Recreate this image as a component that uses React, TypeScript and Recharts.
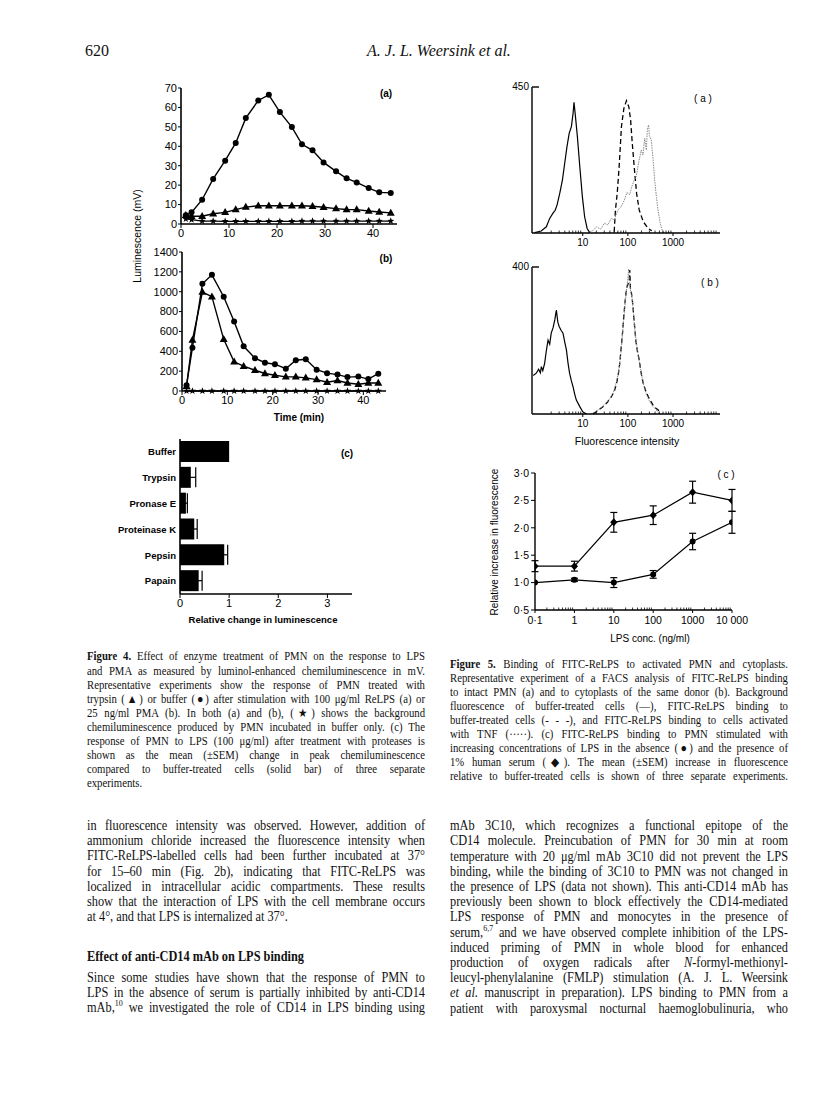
import React from "react";
import { Bar, BarChart, ErrorBar, Line, LineChart, XAxis, YAxis } from "recharts";

const sans = "'Liberation Sans', Arial, Helvetica, sans-serif";
const serif = "'Liberation Serif', 'Times New Roman', Times, serif";

// Figure 4 (a): 100 ug/ml ReLPS, luminescence (mV)
const timeA = [1, 2.2, 4.4, 6.7, 9.2, 11.4, 13.5, 16.1, 18.3, 20.6, 23.1, 25.2, 27.4, 29.7, 32.3, 34.5, 36.6, 39.1, 41.3, 43.7];
const bufferA = [4.5, 6, 12.5, 23.2, 32.6, 41.7, 54.5, 63.6, 66.5, 57.6, 49.9, 41, 37.9, 31.7, 27.1, 23.5, 21.4, 18.5, 16.3, 16];
const trypsinA = [4.5, 4, 4, 5.3, 6, 7.4, 8.7, 9.4, 9.4, 9.4, 9.4, 9.4, 9.1, 8.6, 7.9, 7.5, 7.4, 6.7, 6.2, 5.7];
const blankA = [2.6, 2.2, 1.5, 1.5, 1.4, 1.4, 1.4, 1.4, 1.4, 1.4, 1.4, 1.5, 1.5, 1.5, 1.5, 1.5, 1.5, 1.5, 1.5, 1.5];

// Figure 4 (b): 25 ng/ml PMA
const timeB = [1, 2.3, 4.5, 6.6, 9.2, 11.5, 13.6, 16.1, 18.3, 20.5, 22.9, 25.1, 27.3, 29.7, 32, 34.3, 36.5, 38.9, 41.1, 43.3];
const bufferB = [58, 436, 1080, 1170, 950, 700, 450, 330, 285, 270, 225, 310, 320, 215, 180, 165, 140, 145, 120, 175];
const trypsinB = [47, 513, 997, 950, 520, 294, 250, 209, 176, 159, 142, 142, 132, 115, 88, 105, 81, 68, 81, 81];
const blankB = [0, 0, 0, 0, 0, 0, 0, 0, 0, 0, 0, 0, 0, 0, 0, 0, 0, 0, 0, 0];

// Figure 4 (c): relative change in luminescence
const enzymes = ["Buffer", "Trypsin", "Pronase E", "Proteinase K", "Pepsin", "Papain"];
const relChange = [1.0, 0.22, 0.12, 0.29, 0.9, 0.38];
const relChangeSem = [0, 0.1, 0.03, 0.06, 0.07, 0.07];

// Figure 5 (a), (b): FACS histograms [intensity, counts]
const facsAbackground: [number, number][] = [[0.86, 1], [1.2, 6], [1.56, 19], [1.85, 45], [2.19, 61], [2.45, 70], [2.69, 86], [3.09, 122], [3.54, 163], [3.98, 215], [4.47, 266], [5.0, 307], [5.6, 328], [6.1, 369], [6.4, 403], [6.9, 358], [7.6, 297], [8.6, 204], [9.8, 112], [11, 50], [12.5, 14], [14.3, 1]];
const facsAbuffer: [number, number][] = [[49.7, 4], [53, 71], [58, 122], [64, 204], [72, 328], [81.5, 384], [93, 408], [105, 389], [115, 348], [125, 277], [138, 204], [156, 122], [178, 71], [219, 35], [283, 14], [337, 7]];
const facsAtnf: [number, number][] = [[13, 0], [17, 8], [20, 19], [25, 12], [30, 30], [36, 25], [43, 45], [50, 40], [60, 71], [70, 80], [84, 102], [95, 125], [110, 118], [119, 138], [135, 160], [153, 174], [175, 220], [198, 256], [215, 240], [236, 292], [256, 256], [270, 320], [288, 333], [300, 300], [330, 287], [360, 230], [392, 163], [430, 110], [465, 71], [520, 30], [577, 9], [620, 0]];
const facsBbackground: [number, number][] = [[0.8, 105], [0.93, 111], [1.05, 122], [1.15, 112], [1.21, 129], [1.3, 118], [1.43, 138], [1.55, 170], [1.7, 201], [1.85, 190], [2.0, 220], [2.2, 235], [2.4, 256], [2.6, 283], [2.8, 250], [3.0, 238], [3.3, 228], [3.65, 220], [4.0, 195], [4.35, 174], [4.7, 140], [5.1, 111], [5.6, 90], [6.1, 74], [6.6, 55], [7.2, 38], [8.6, 20], [10, 6], [12, 0]];
const facsBbuffer: [number, number][] = [[17, 0], [22, 10], [28, 20], [35, 32], [43, 47], [50, 62], [56, 83], [61, 105], [66, 138], [71, 180], [76, 220], [81, 265], [86, 301], [91, 330], [96, 347], [102, 355], [107, 360], [110, 392], [114, 340], [120, 329], [128, 300], [136, 260], [143, 230], [150, 200], [163, 170], [178, 147], [198, 110], [219, 83], [250, 62], [283, 47], [320, 35], [362, 24], [410, 16], [470, 11], [520, 0]];
const facsBtnf: [number, number][] = [[15, 0], [20, 8], [26, 18], [33, 30], [40, 42], [48, 60], [55, 85], [62, 115], [68, 150], [74, 200], [80, 250], [86, 295], [93, 335], [100, 370], [104, 395], [108, 365], [115, 335], [124, 315], [132, 280], [140, 240], [150, 205], [165, 170], [180, 140], [200, 108], [225, 78], [260, 52], [300, 35], [350, 22], [420, 12], [500, 0]];
const facsTickLabels: Record<number, string> = { 10: "10", 100: "100", 1000: "1000" };

// Figure 5 (c): LPS concentration (ng/ml) vs relative increase in fluorescence
const lpsConc = [0.1, 1, 10, 100, 1000, 10000];
const noSerum = [1.0, 1.05, 1.0, 1.15, 1.75, 2.1];
const noSerumSem = [0, 0.03, 0.09, 0.07, 0.15, 0.2];
const withSerum = [1.3, 1.3, 2.1, 2.23, 2.65, 2.5];
const withSerumSem = [0.1, 0.09, 0.18, 0.17, 0.2, 0.2];
const lpsTickLabels: Record<number, string> = { 0.1: "0·1", 1: "1", 10: "10", 100: "100", 1000: "1000", 10000: "10 000" };

const minorTicks = (decades: number[]) => decades.flatMap((d) => [2, 3, 4, 5, 6, 7, 8, 9].map((m) => m * d));
const pairs = (arr: [number, number][]) => arr.map(([x, y]) => ({ x, y }));

const axisStroke = { stroke: "#000", strokeWidth: 1.6 };
const tickText = { fontSize: 11, fill: "#000", fontFamily: sans };

const circleDot = (r: number) => (p: any) => (
  <circle key={`c${p.index}`} cx={p.cx} cy={p.cy} r={r} fill="#000" stroke="none" />
);
const triangleDot = (p: any) => (
  <path key={`t${p.index}`} d={`M${p.cx},${p.cy - 4.3}L${p.cx + 4},${p.cy + 2.7}L${p.cx - 4},${p.cy + 2.7}Z`} fill="#000" stroke="none" />
);
const diamondDot = (p: any) => (
  <path key={`d${p.index}`} d={`M${p.cx},${p.cy - 4}L${p.cx + 3.6},${p.cy}L${p.cx},${p.cy + 4}L${p.cx - 3.6},${p.cy}Z`} fill="#000" stroke="none" />
);
const starDot = (p: any) => {
  let d = "";
  for (let i = 0; i < 10; i++) {
    const a = -Math.PI / 2 + (i * Math.PI) / 5;
    const rad = i % 2 === 0 ? 3.8 : 1.5;
    d += (i === 0 ? "M" : "L") + (p.cx + rad * Math.cos(a)).toFixed(2) + "," + (p.cy + rad * Math.sin(a)).toFixed(2);
  }
  return <path key={`s${p.index}`} d={d + "Z"} fill="#000" stroke="none" />;
};

function Label({ x, y, children, size = 10.5, bold = false, rotate = false, font = sans, style = {} }: any) {
  return (
    <div
      style={{
        position: "absolute",
        left: x,
        top: y,
        transform: `translate(-50%, -50%)${rotate ? " rotate(-90deg)" : ""}`,
        whiteSpace: "nowrap",
        fontFamily: font,
        fontSize: size,
        fontWeight: bold ? 700 : 400,
        lineHeight: 1,
        color: "#000",
        ...style
      }}
    >
      {children}
    </div>
  );
}

function TextLines({ x, y0, pitch, width, size, scale, lines }: any) {
  return (
    <>
      {lines.map((ln: any, i: number) => (
        <div
          key={i}
          style={{
            position: "absolute",
            left: x,
            top: y0 + i * pitch - size * 0.7,
            width: width / scale,
            transform: `scaleX(${scale})`,
            transformOrigin: "0 0",
            fontFamily: serif,
            fontSize: size,
            lineHeight: `${size * 1.2}px`,
            height: size * 1.2,
            textAlign: "justify",
            textAlignLast: ln.last ? "left" : "justify",
            color: "#111"
          }}
        >
          {ln.t}
        </div>
      ))}
    </>
  );
}

function LogTick({ x, y, payload, labels, fontSize, gap }: any) {
  const v = payload.value;
  const label = labels[v];
  return (
    <g>
      {label !== undefined ? (
        <>
          <line x1={x} x2={x} y1={y} y2={y + 3} stroke="#000" strokeWidth={1} />
          <text x={x} y={y + gap} textAnchor="middle" fontSize={fontSize} fontFamily={sans} fill="#000">
            {label}
          </text>
        </>
      ) : (
        <line x1={x} x2={x} y1={y} y2={y - 2.5} stroke="#000" strokeWidth={0.8} />
      )}
    </g>
  );
}

function TopTick({ x, y, payload }: any) {
  return (
    <g>
      <line x1={x} x2={x + 7} y1={y} y2={y} stroke="#000" strokeWidth={1.4} />
      <text x={x - 3} y={y + 3} textAnchor="end" fontSize={10} fontFamily={sans} fill="#000">
        {payload.value}
      </text>
    </g>
  );
}

function Fig4a() {
  const rows = timeA.map((t, i) => ({ t, buffer: bufferA[i], trypsin: trypsinA[i], blank: blankA[i] }));
  return (
    <div style={{ position: "absolute", left: 100, top: 70 }}>
      <LineChart width={320} height={180} data={rows} margin={{ top: 18, right: 23, bottom: 0, left: 0 }}>
        <XAxis type="number" dataKey="t" domain={[0, 45]} ticks={[0, 10, 20, 30, 40]} interval={0} allowDataOverflow height={26} tickSize={4} tickMargin={1} axisLine={axisStroke} tickLine={{ stroke: "#000" }} tick={tickText} />
        <YAxis type="number" domain={[0, 70]} ticks={[0, 10, 20, 30, 40, 50, 60, 70]} interval={0} width={81} tickSize={3} tickMargin={1} axisLine={axisStroke} tickLine={{ stroke: "#000" }} tick={tickText} />
        <Line dataKey="blank" stroke="#000" strokeWidth={1.3} dot={starDot} isAnimationActive={false} />
        <Line dataKey="trypsin" stroke="#000" strokeWidth={1.4} dot={triangleDot} isAnimationActive={false} />
        <Line dataKey="buffer" stroke="#000" strokeWidth={1.4} dot={circleDot(3)} isAnimationActive={false} />
      </LineChart>
    </div>
  );
}

function Fig4b() {
  const rows = timeB.map((t, i) => ({ t, buffer: bufferB[i], trypsin: trypsinB[i], blank: blankB[i] }));
  return (
    <div style={{ position: "absolute", left: 100, top: 235 }}>
      <LineChart width={320} height={182} data={rows} margin={{ top: 17, right: 34, bottom: 0, left: 0 }}>
        <XAxis type="number" dataKey="t" domain={[0, 45]} ticks={[0, 10, 20, 30, 40]} interval={0} allowDataOverflow height={26} tickSize={4} tickMargin={1} axisLine={axisStroke} tickLine={{ stroke: "#000" }} tick={tickText} />
        <YAxis type="number" domain={[0, 1400]} ticks={[0, 200, 400, 600, 800, 1000, 1200, 1400]} interval={0} width={82} tickSize={3} tickMargin={1} axisLine={axisStroke} tickLine={{ stroke: "#000" }} tick={tickText} />
        <Line dataKey="blank" stroke="#000" strokeWidth={1.3} dot={starDot} isAnimationActive={false} />
        <Line dataKey="trypsin" stroke="#000" strokeWidth={1.4} dot={triangleDot} isAnimationActive={false} />
        <Line dataKey="buffer" stroke="#000" strokeWidth={1.4} dot={circleDot(3)} isAnimationActive={false} />
      </LineChart>
    </div>
  );
}

function Fig4c() {
  const rows = enzymes.map((name, i) => ({ name, v: relChange[i], e: relChangeSem[i] }));
  return (
    <div style={{ position: "absolute", left: 60, top: 425 }}>
      <BarChart layout="vertical" width={310} height={209} data={rows} margin={{ top: 14, right: 18, bottom: 0, left: 0 }}>
        <XAxis type="number" domain={[0, 3.5]} ticks={[0, 1, 2, 3]} interval={0} allowDataOverflow height={40} tickSize={4} tickMargin={1} axisLine={axisStroke} tickLine={{ stroke: "#000" }} tick={tickText} />
        <YAxis type="category" dataKey="name" width={120} interval={0} tickLine={false} tickSize={0} tickMargin={4} axisLine={axisStroke} tick={{ fontSize: 9.5, fontWeight: 700, fill: "#000", fontFamily: sans }} />
        <Bar dataKey="v" fill="#000" barSize={21} isAnimationActive={false}>
          <ErrorBar dataKey="e" direction="x" width={10} stroke="#000" strokeWidth={1.2} />
        </Bar>
      </BarChart>
    </div>
  );
}

function Facs({ left, top, height, yMax, background, buffer, tnf }: any) {
  return (
    <div style={{ position: "absolute", left, top }}>
      <LineChart width={260} height={height} margin={{ top: 12, right: 20, bottom: 0, left: 0 }}>
        <XAxis
          type="number"
          dataKey="x"
          scale="log"
          domain={[0.75, 11000]}
          allowDataOverflow
          ticks={[10, 100, 1000, ...minorTicks([1, 10, 100, 1000])]}
          interval={0}
          tickSize={0}
          tickMargin={0}
          tickLine={false}
          height={20}
          axisLine={{ stroke: "#000", strokeWidth: 1.4 }}
          tick={<LogTick labels={facsTickLabels} fontSize={10} gap={13} />}
        />
        <YAxis type="number" domain={[0, yMax]} ticks={[yMax]} interval={0} width={52} tickSize={0} tickMargin={0} tickLine={false} axisLine={{ stroke: "#000", strokeWidth: 1.4 }} tick={<TopTick />} />
        <Line data={pairs(background)} dataKey="y" stroke="#000" strokeWidth={1.2} dot={false} isAnimationActive={false} />
        <Line data={pairs(buffer)} dataKey="y" stroke="#000" strokeWidth={1.3} strokeDasharray="5 3" dot={false} isAnimationActive={false} />
        <Line data={pairs(tnf)} dataKey="y" stroke="#8a8a8a" strokeWidth={1} strokeDasharray="1.5 1" dot={false} isAnimationActive={false} />
      </LineChart>
    </div>
  );
}

function Fig5c() {
  const absent = lpsConc.map((x, i) => ({ x, y: noSerum[i], e: noSerumSem[i] }));
  const present = lpsConc.map((x, i) => ({ x, y: withSerum[i], e: withSerumSem[i] }));
  return (
    <div style={{ position: "absolute", left: 470, top: 460 }}>
      <LineChart width={280} height={172} margin={{ top: 13, right: 18, bottom: 0, left: 0 }}>
        <XAxis
          type="number"
          dataKey="x"
          scale="log"
          domain={[0.1, 10000]}
          allowDataOverflow
          ticks={[...lpsConc, ...minorTicks([0.1, 1, 10, 100, 1000])]}
          interval={0}
          tickSize={0}
          tickMargin={0}
          tickLine={false}
          height={22}
          axisLine={{ stroke: "#000", strokeWidth: 1.4 }}
          tick={<LogTick labels={lpsTickLabels} fontSize={10.5} gap={14} />}
        />
        <YAxis
          type="number"
          domain={[0.5, 3]}
          ticks={[0.5, 1, 1.5, 2, 2.5, 3]}
          interval={0}
          width={65}
          tickSize={4}
          tickMargin={2}
          axisLine={{ stroke: "#000", strokeWidth: 1.4 }}
          tickLine={{ stroke: "#000" }}
          tick={{ fontSize: 10.5, fill: "#000", fontFamily: sans }}
          tickFormatter={(v: number) => v.toFixed(1).replace(".", "·")}
        />
        <Line data={present} dataKey="y" stroke="#000" strokeWidth={1.2} dot={diamondDot} isAnimationActive={false}>
          <ErrorBar dataKey="e" direction="y" width={3.5} stroke="#000" strokeWidth={1.2} />
        </Line>
        <Line data={absent} dataKey="y" stroke="#000" strokeWidth={1.2} dot={circleDot(3)} isAnimationActive={false}>
          <ErrorBar dataKey="e" direction="y" width={3.5} stroke="#000" strokeWidth={1.2} />
        </Line>
      </LineChart>
    </div>
  );
}

const fig4Caption = [
  { t: <><b>Figure 4.</b> Effect of enzyme treatment of PMN on the response to LPS</> },
  { t: "and PMA as measured by luminol-enhanced chemiluminescence in mV." },
  { t: "Representative experiments show the response of PMN treated with" },
  { t: "trypsin (▲) or buffer (●) after stimulation with 100 μg/ml ReLPS (a) or" },
  { t: "25 ng/ml PMA (b). In both (a) and (b), (★) shows the background" },
  { t: "chemiluminescence produced by PMN incubated in buffer only. (c) The" },
  { t: "response of PMN to LPS (100 μg/ml) after treatment with proteases is" },
  { t: "shown as the mean (±SEM) change in peak chemiluminescence" },
  { t: "compared to buffer-treated cells (solid bar) of three separate" },
  { t: "experiments.", last: true }
];

const fig5Caption = [
  { t: <><b>Figure 5.</b> Binding of FITC-ReLPS to activated PMN and cytoplasts.</> },
  { t: "Representative experiment of a FACS analysis of FITC-ReLPS binding" },
  { t: "to intact PMN (a) and to cytoplasts of the same donor (b). Background" },
  { t: "fluorescence of buffer-treated cells (—), FITC-ReLPS binding to" },
  { t: "buffer-treated cells (- - -), and FITC-ReLPS binding to cells activated" },
  { t: "with TNF (·····). (c) FITC-ReLPS binding to PMN stimulated with" },
  { t: "increasing concentrations of LPS in the absence (●) and the presence of" },
  { t: "1% human serum (◆). The mean (±SEM) increase in fluorescence" },
  { t: "relative to buffer-treated cells is shown of three separate experiments." }
];

const leftBody = [
  { t: "in fluorescence intensity was observed. However, addition of" },
  { t: "ammonium chloride increased the fluorescence intensity when" },
  { t: "FITC-ReLPS-labelled cells had been further incubated at 37°" },
  { t: "for 15–60 min (Fig. 2b), indicating that FITC-ReLPS was" },
  { t: "localized in intracellular acidic compartments. These results" },
  { t: "show that the interaction of LPS with the cell membrane occurs" },
  { t: "at 4°, and that LPS is internalized at 37°.", last: true }
];

const leftBody2 = [
  { t: "Since some studies have shown that the response of PMN to" },
  { t: "LPS in the absence of serum is partially inhibited by anti-CD14" },
  { t: <>mAb,<sup style={{ fontSize: "0.65em", lineHeight: 0 }}>10</sup> we investigated the role of CD14 in LPS binding using</> }
];

const rightBody = [
  { t: "mAb 3C10, which recognizes a functional epitope of the" },
  { t: "CD14 molecule. Preincubation of PMN for 30 min at room" },
  { t: "temperature with 20 μg/ml mAb 3C10 did not prevent the LPS" },
  { t: "binding, while the binding of 3C10 to PMN was not changed in" },
  { t: "the presence of LPS (data not shown). This anti-CD14 mAb has" },
  { t: "previously been shown to block effectively the CD14-mediated" },
  { t: "LPS response of PMN and monocytes in the presence of" },
  { t: <>serum,<sup style={{ fontSize: "0.65em", lineHeight: 0 }}>6,7</sup> and we have observed complete inhibition of the LPS-</> },
  { t: "induced priming of PMN in whole blood for enhanced" },
  { t: <>production of oxygen radicals after <i>N</i>-formyl-methionyl-</> },
  { t: "leucyl-phenylalanine (FMLP) stimulation (A. J. L. Weersink" },
  { t: <><i>et al.</i> manuscript in preparation). LPS binding to PMN from a</> },
  { t: "patient with paroxysmal nocturnal haemoglobulinuria, who" }
];

export default function App() {
  return (
    <div style={{ position: "absolute", left: 0, top: 0, width: 816, height: 1094, background: "#fff", overflow: "hidden" }}>
      <div style={{ position: "absolute", left: 85, top: 41, fontFamily: serif, fontSize: 16, lineHeight: "19px", color: "#111" }}>620</div>
      <div style={{ position: "absolute", left: 367, top: 41, fontFamily: serif, fontSize: 16, lineHeight: "19px", fontStyle: "italic", color: "#111" }}>
        A. J. L. Weersink et al.
      </div>

      <Fig4a />
      <Fig4b />
      <Fig4c />
      <Label x={137} y={236} rotate size={10.5}>Luminescence (mV)</Label>
      <Label x={386} y={94} bold size={10}>(a)</Label>
      <Label x={386} y={259} bold size={10}>(b)</Label>
      <Label x={347} y={454} bold size={10}>(c)</Label>
      <Label x={299} y={418} bold size={10}>Time (min)</Label>
      <Label x={263} y={620} bold size={9.5}>Relative change in luminescence</Label>

      <Facs left={480} top={75} height={178} yMax={450} background={facsAbackground} buffer={facsAbuffer} tnf={facsAtnf} />
      <Facs left={480} top={255} height={179} yMax={400} background={facsBbackground} buffer={facsBbuffer} tnf={facsBtnf} />
      <Label x={703} y={99} size={10}>( a )</Label>
      <Label x={710} y={283} size={10}>( b )</Label>
      <Label x={627} y={441} size={10.5}>Fluorescence intensity</Label>

      <Fig5c />
      <Label x={495} y={542} rotate size={10}>Relative increase in fluorescence</Label>
      <Label x={726} y={475} size={10}>( c )</Label>
      <Label x={650} y={639} size={10}>LPS conc. (ng/ml)</Label>

      <TextLines x={87} y0={658} pitch={14.1} width={338} size={12.2} scale={0.88} lines={fig4Caption} />
      <TextLines x={450} y0={666} pitch={14} width={338} size={12.2} scale={0.88} lines={fig5Caption} />
      <TextLines x={87} y0={828} pitch={15.1} width={338} size={14} scale={0.88} lines={leftBody} />
      <div style={{ position: "absolute", left: 87, top: 958 - 10, transform: "scaleX(0.88)", transformOrigin: "0 0", fontFamily: serif, fontSize: 14, fontWeight: 700, lineHeight: "17px", whiteSpace: "nowrap", color: "#111" }}>
        Effect of anti-CD14 mAb on LPS binding
      </div>
      <TextLines x={87} y0={980} pitch={15} width={338} size={14} scale={0.88} lines={leftBody2} />
      <TextLines x={450} y0={828} pitch={15.2} width={338} size={14} scale={0.88} lines={rightBody} />
    </div>
  );
}
